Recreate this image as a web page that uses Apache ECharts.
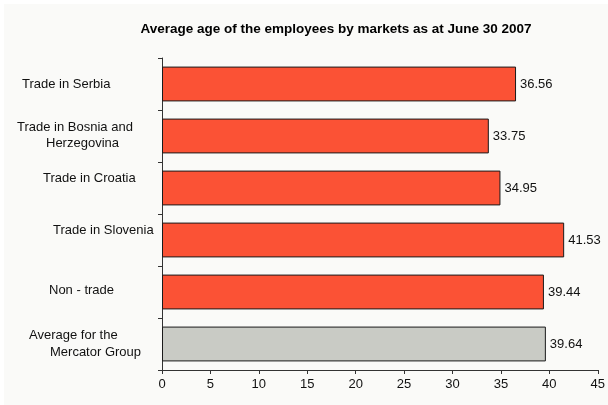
<!DOCTYPE html>
<html>
<head>
<meta charset="utf-8">
<script src="https://cdn.jsdelivr.net/npm/echarts@6/dist/echarts.min.js"></script>
<style>
html,body{margin:0;padding:0;background:#ffffff;}
#c{width:608px;height:405px;}
</style>
</head>
<body>
<div id="c"></div>
<script>
// ---- data ----
var titleText = 'Average age of the employees by markets as at June 30 2007';
var categories = [
  'Trade in Serbia',
  'Trade in Bosnia and\nHerzegovina',
  'Trade in Croatia',
  'Trade in Slovenia',
  'Non - trade',
  'Average for the\nMercator Group'
];
var values = [36.56, 33.75, 34.95, 41.53, 39.44, 39.64];
var xTicks = [0, 5, 10, 15, 20, 25, 30, 35, 40, 45];

// ---- label layout (styling only) ----
var lineIndent = [[8], [3, 32], [29], [39], [35], [15, 36]];
var lineLift = [0, 2, 20, 20, 4, 0];
var FONT = 'Liberation Sans, Arial';

var rich = {};
var axisData = categories.map(function (c, i) {
  var lines = c.split('\n');
  var parts = lines.map(function (ln, j) {
    var key = 'l' + i + '_' + j;
    var pad = [0, 0, 0, lineIndent[i][j]];
    if (j === lines.length - 1) pad[2] = lineLift[i];
    rich[key] = {fontSize: 13, fontFamily: FONT, color: '#111', padding: pad, lineHeight: 17};
    return '{' + key + '|' + ln + '}';
  });
  return parts.join('\n');
});

var barColors = values.map(function (v, i) { return i === values.length - 1 ? '#C9CBC5' : '#FB5235'; });

var chart = echarts.init(document.getElementById('c'), null, {renderer: 'canvas'});
chart.setOption({
  backgroundColor: '#ffffff',
  animation: false,
  graphic: [{
    type: 'rect', z: -10, silent: true,
    shape: {x: 4, y: 4, width: 604, height: 401},
    style: {fill: '#FAFAF8'}
  }],
  title: {
    text: titleText,
    left: 331, top: 17, textAlign: 'center',
    textStyle: {fontSize: 13.5, fontWeight: 'bold', fontFamily: FONT, color: '#000'}
  },
  grid: {left: 162, right: 9, top: 58, bottom: 35, containLabel: false},
  xAxis: {
    type: 'value', min: xTicks[0], max: xTicks[xTicks.length - 1], interval: xTicks[1] - xTicks[0],
    splitLine: {show: false},
    axisLine: {show: true, lineStyle: {color: '#333', width: 1}},
    axisTick: {show: true, length: 4, lineStyle: {color: '#333'}},
    axisLabel: {fontSize: 13, fontFamily: FONT, color: '#111', margin: 8}
  },
  yAxis: {
    type: 'category', inverse: true, data: axisData,
    axisLine: {show: true, lineStyle: {color: '#333', width: 1}},
    axisTick: {show: true, length: 4, lineStyle: {color: '#333'}},
    axisLabel: {align: 'left', margin: 148, rich: rich, color: '#111'}
  },
  series: [{
    type: 'bar', data: values.map(function (v, i) { return {value: v, itemStyle: {color: barColors[i]}}; }),
    barWidth: '67%',
    itemStyle: {borderColor: '#1a1a1a', borderWidth: 1},
    label: {show: true, position: 'right', distance: 4, fontSize: 13, fontFamily: FONT, color: '#111',
      formatter: function (p) { return p.value.toFixed(2); }}
  }]
});
</script>
</body>
</html>
